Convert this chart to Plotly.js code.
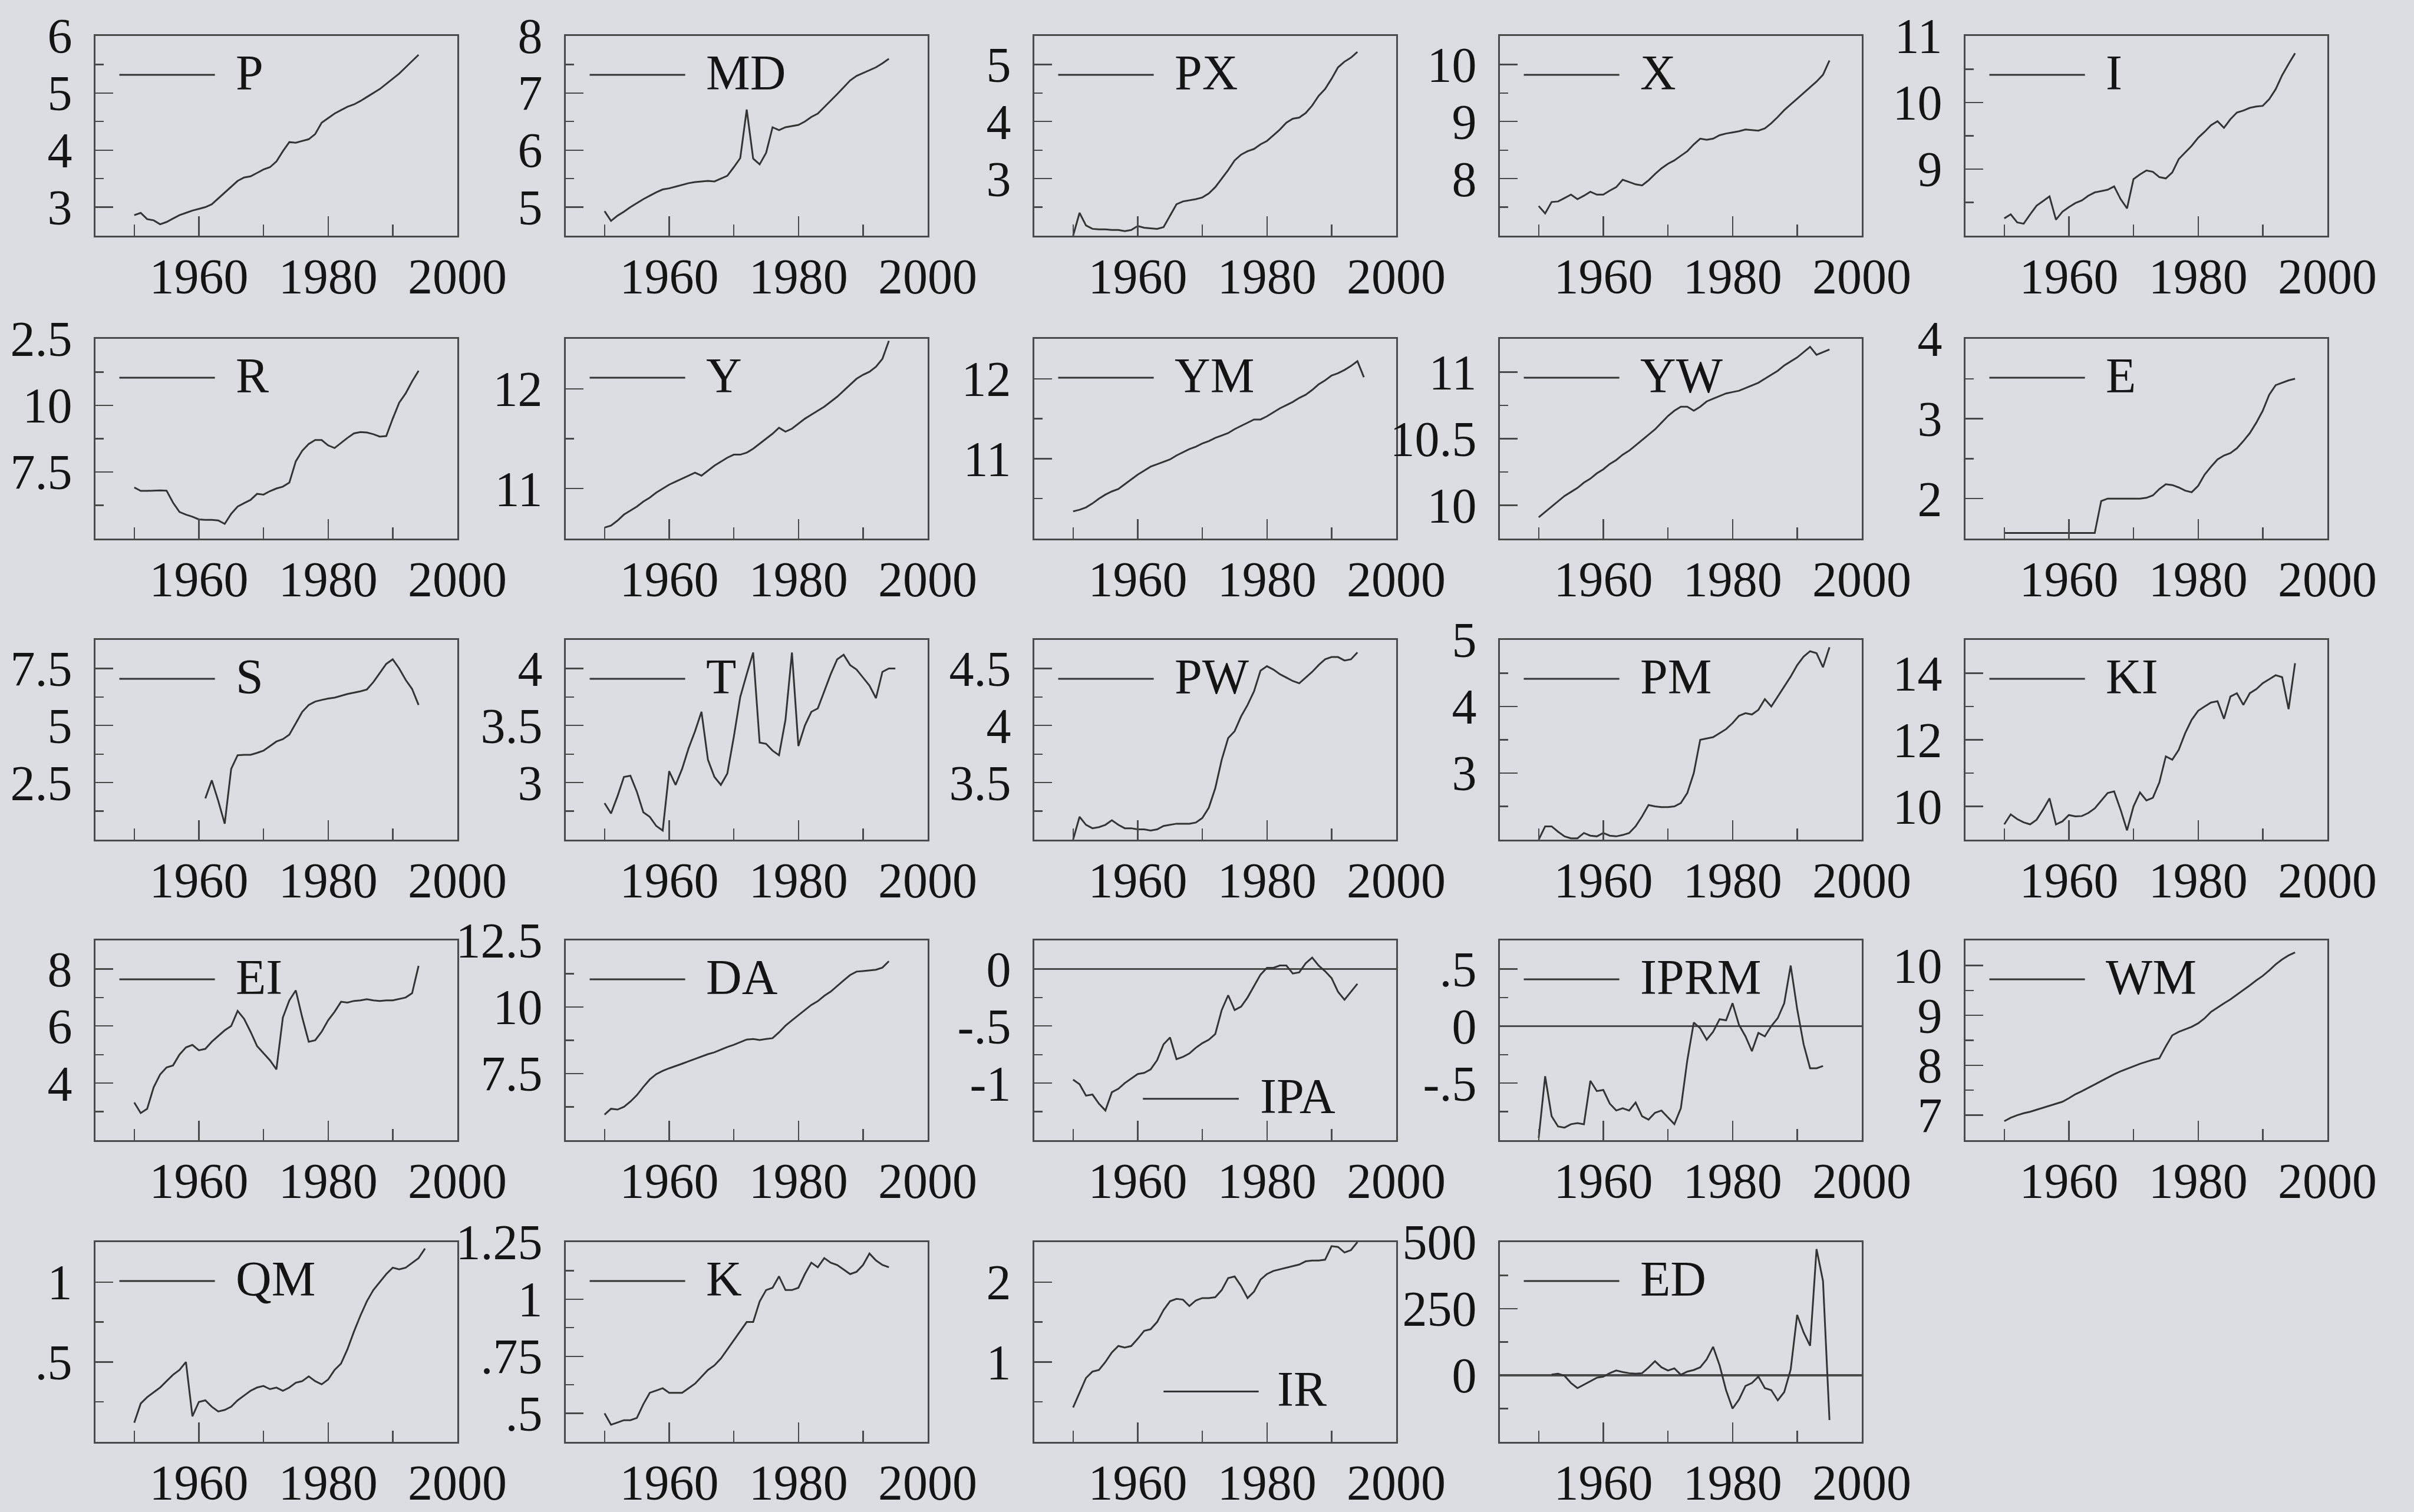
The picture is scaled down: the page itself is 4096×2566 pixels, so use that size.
<!DOCTYPE html>
<html><head><meta charset="utf-8">
<script src="https://cdn.plot.ly/plotly-3.0.1.min.js"></script>
<style>html,body{margin:0;padding:0;background:#dcdde3;} #chart{width:4096px;height:2566px;}</style>
</head><body><div id="chart"></div>
<script>
// ---------- data (annual) ----------
const years = [1950,1951,1952,1953,1954,1955,1956,1957,1958,1959,1960,1961,1962,1963,1964,1965,1966,1967,1968,1969,1970,1971,1972,1973,1974,1975,1976,1977,1978,1979,1980,1981,1982,1983,1984,1985,1986,1987,1988,1989,1990,1991,1992,1993,1994,1995];
const xTickLabels = ['1960','1980','2000'];
const xTickYears = [1960,1980,2000];
const xMinorYears = [1950,1970,1990];

const P   = [2.86,2.9,2.79,2.77,2.7,2.74,2.8,2.86,2.9,2.94,2.97,3.0,3.05,3.15,3.25,3.35,3.46,3.52,3.54,3.6,3.66,3.7,3.8,3.98,4.14,4.13,4.16,4.19,4.28,4.48,4.56,4.64,4.7,4.76,4.8,4.86,4.93,5.0,5.07,5.16,5.25,5.34,5.45,5.56,5.67];
const MD  = [4.93,4.76,4.85,4.92,5.0,5.07,5.14,5.2,5.26,5.31,5.33,5.36,5.39,5.42,5.44,5.45,5.46,5.45,5.5,5.55,5.7,5.86,6.71,5.85,5.75,5.95,6.4,6.35,6.4,6.42,6.44,6.5,6.58,6.64,6.75,6.86,6.98,7.1,7.22,7.3,7.35,7.4,7.45,7.52,7.6];
const PX  = [2.0,2.4,2.18,2.12,2.11,2.11,2.1,2.1,2.08,2.1,2.17,2.14,2.13,2.12,2.15,2.35,2.55,2.6,2.62,2.64,2.67,2.74,2.85,3.0,3.15,3.32,3.42,3.48,3.52,3.6,3.66,3.76,3.86,3.98,4.05,4.07,4.15,4.28,4.45,4.57,4.75,4.95,5.05,5.12,5.22];
const X   = [7.52,7.39,7.59,7.6,7.66,7.72,7.64,7.7,7.77,7.72,7.72,7.79,7.85,7.98,7.94,7.9,7.88,7.97,8.08,8.18,8.26,8.32,8.4,8.48,8.6,8.7,8.68,8.7,8.76,8.79,8.81,8.83,8.86,8.85,8.84,8.88,8.97,9.08,9.2,9.3,9.4,9.5,9.6,9.7,9.82,10.07];
const I   = [8.26,8.32,8.2,8.18,8.32,8.45,8.52,8.59,8.24,8.36,8.43,8.49,8.53,8.6,8.65,8.67,8.69,8.74,8.55,8.41,8.85,8.92,8.98,8.96,8.88,8.86,8.95,9.15,9.25,9.35,9.47,9.56,9.66,9.72,9.62,9.75,9.85,9.88,9.92,9.94,9.95,10.05,10.2,10.41,10.58,10.74];
const R   = [6.92,6.79,6.79,6.8,6.81,6.8,6.35,6.0,5.9,5.82,5.72,5.7,5.7,5.68,5.55,5.93,6.2,6.33,6.45,6.68,6.65,6.78,6.88,6.95,7.1,7.9,8.3,8.55,8.7,8.7,8.5,8.4,8.6,8.78,8.95,9.0,8.98,8.92,8.83,8.85,9.5,10.1,10.45,10.9,11.3];
const Y   = [10.61,10.63,10.68,10.74,10.78,10.82,10.87,10.91,10.96,11.0,11.04,11.07,11.1,11.13,11.16,11.13,11.18,11.23,11.27,11.31,11.34,11.34,11.36,11.4,11.45,11.5,11.55,11.61,11.57,11.6,11.65,11.7,11.74,11.78,11.82,11.87,11.92,11.98,12.04,12.1,12.14,12.17,12.22,12.3,12.48];
const YM  = [10.34,10.36,10.39,10.44,10.5,10.55,10.59,10.62,10.68,10.74,10.8,10.85,10.9,10.93,10.96,10.99,11.04,11.08,11.12,11.15,11.19,11.22,11.26,11.29,11.32,11.37,11.41,11.45,11.49,11.49,11.53,11.58,11.63,11.67,11.71,11.76,11.8,11.86,11.93,11.98,12.04,12.07,12.11,12.16,12.22,12.02];
const YW  = [9.91,9.95,9.99,10.03,10.07,10.1,10.13,10.17,10.2,10.24,10.27,10.31,10.34,10.38,10.41,10.45,10.49,10.53,10.57,10.62,10.67,10.71,10.74,10.74,10.71,10.74,10.78,10.8,10.82,10.84,10.85,10.86,10.88,10.9,10.92,10.95,10.98,11.01,11.05,11.08,11.11,11.15,11.19,11.13,11.15,11.17];
const E   = [1.57,1.57,1.57,1.57,1.57,1.57,1.57,1.57,1.57,1.57,1.57,1.57,1.57,1.57,1.57,1.97,2.0,2.0,2.0,2.0,2.0,2.0,2.01,2.04,2.12,2.18,2.17,2.14,2.1,2.08,2.16,2.3,2.4,2.49,2.54,2.57,2.63,2.72,2.82,2.95,3.1,3.3,3.42,3.45,3.48,3.5];
const S   = [null,null,null,null,null,null,null,null,null,null,null,1.81,2.6,1.7,0.7,3.1,3.7,3.72,3.72,3.8,3.9,4.1,4.3,4.4,4.6,5.1,5.6,5.9,6.05,6.12,6.18,6.22,6.3,6.38,6.44,6.5,6.58,6.9,7.3,7.7,7.9,7.5,7.0,6.6,5.9];
const T   = [2.82,2.73,2.88,3.05,3.06,2.92,2.74,2.7,2.62,2.58,3.1,2.98,3.12,3.3,3.45,3.62,3.2,3.05,2.98,3.08,3.4,3.75,3.95,4.14,3.35,3.34,3.28,3.24,3.55,4.14,3.32,3.5,3.62,3.65,3.8,3.95,4.08,4.12,4.03,3.99,3.92,3.85,3.74,3.97,4.0,4.0];
const PW  = [3.0,3.2,3.13,3.1,3.11,3.13,3.17,3.13,3.1,3.1,3.09,3.09,3.08,3.09,3.12,3.13,3.14,3.14,3.14,3.15,3.19,3.28,3.45,3.7,3.89,3.95,4.08,4.18,4.3,4.48,4.52,4.49,4.45,4.42,4.39,4.37,4.42,4.47,4.53,4.58,4.6,4.6,4.57,4.58,4.64];
const PM  = [2.0,2.2,2.2,2.12,2.05,2.02,2.02,2.1,2.06,2.05,2.1,2.06,2.05,2.07,2.1,2.2,2.35,2.52,2.5,2.49,2.49,2.5,2.55,2.7,3.0,3.5,3.52,3.54,3.6,3.66,3.75,3.86,3.9,3.88,3.95,4.11,4.0,4.15,4.3,4.45,4.62,4.75,4.83,4.8,4.59,4.89];
const KI  = [9.46,9.76,9.62,9.52,9.46,9.6,9.9,10.24,9.46,9.55,9.74,9.7,9.71,9.8,9.94,10.18,10.4,10.45,9.9,9.28,10.0,10.42,10.18,10.26,10.72,11.5,11.4,11.7,12.2,12.6,12.87,13.0,13.12,13.16,12.63,13.3,13.4,13.05,13.4,13.52,13.7,13.82,13.94,13.88,12.92,14.3];
const EI  = [3.32,2.95,3.1,3.85,4.3,4.55,4.62,5.0,5.25,5.34,5.15,5.2,5.45,5.65,5.85,6.0,6.53,6.25,5.8,5.3,5.05,4.8,4.48,6.3,6.9,7.25,6.3,5.45,5.5,5.8,6.2,6.5,6.85,6.82,6.88,6.9,6.94,6.9,6.88,6.9,6.9,6.95,7.0,7.15,8.11];
const DA  = [5.96,6.18,6.15,6.25,6.45,6.69,7.0,7.28,7.48,7.6,7.7,7.78,7.87,7.96,8.05,8.15,8.23,8.3,8.4,8.5,8.58,8.68,8.78,8.8,8.76,8.8,8.83,9.05,9.3,9.5,9.7,9.9,10.08,10.22,10.42,10.58,10.8,11.0,11.2,11.33,11.35,11.38,11.4,11.48,11.72];
const IPA = [-0.97,-1.01,-1.11,-1.1,-1.18,-1.24,-1.08,-1.05,-1.0,-0.96,-0.92,-0.91,-0.88,-0.8,-0.66,-0.6,-0.79,-0.77,-0.74,-0.69,-0.65,-0.62,-0.57,-0.36,-0.23,-0.36,-0.33,-0.25,-0.15,-0.05,0.01,0.01,0.03,0.03,-0.04,-0.03,0.05,0.1,0.03,-0.02,-0.08,-0.2,-0.27,-0.2,-0.13];
const IPRM= [-0.98,-0.44,-0.79,-0.88,-0.89,-0.86,-0.85,-0.86,-0.48,-0.57,-0.56,-0.68,-0.74,-0.72,-0.74,-0.67,-0.79,-0.82,-0.76,-0.74,-0.8,-0.86,-0.72,-0.3,0.03,-0.02,-0.12,-0.05,0.06,0.05,0.2,0.01,-0.09,-0.22,-0.06,-0.09,0.0,0.07,0.2,0.53,0.15,-0.16,-0.37,-0.37,-0.35];
const WM  = [6.88,6.95,7.0,7.04,7.07,7.11,7.15,7.19,7.23,7.27,7.34,7.42,7.48,7.55,7.62,7.69,7.75,7.82,7.88,7.93,7.98,8.03,8.07,8.11,8.14,8.38,8.6,8.67,8.72,8.77,8.84,8.94,9.07,9.16,9.24,9.32,9.41,9.5,9.6,9.7,9.79,9.9,10.02,10.12,10.2,10.26];
const QM  = [0.12,0.24,0.28,0.31,0.34,0.38,0.42,0.45,0.5,0.16,0.25,0.26,0.22,0.19,0.2,0.22,0.26,0.29,0.32,0.34,0.35,0.33,0.34,0.32,0.34,0.37,0.38,0.41,0.38,0.36,0.39,0.45,0.49,0.58,0.69,0.79,0.88,0.95,1.0,1.05,1.09,1.08,1.09,1.12,1.15,1.21];
const K   = [0.5,0.45,0.46,0.47,0.47,0.48,0.54,0.59,0.6,0.61,0.59,0.59,0.59,0.61,0.63,0.66,0.69,0.71,0.74,0.78,0.82,0.86,0.9,0.9,0.99,1.04,1.05,1.1,1.04,1.04,1.05,1.11,1.16,1.14,1.18,1.16,1.15,1.13,1.11,1.12,1.15,1.2,1.17,1.15,1.14];
const IR  = [0.43,0.62,0.8,0.88,0.9,1.0,1.12,1.2,1.18,1.2,1.29,1.39,1.41,1.5,1.65,1.76,1.79,1.78,1.7,1.77,1.8,1.8,1.81,1.9,2.05,2.07,1.95,1.8,1.88,2.03,2.1,2.14,2.16,2.18,2.2,2.22,2.26,2.27,2.27,2.28,2.45,2.44,2.37,2.4,2.5];
const ED  = [null,null,3,6,-2,-29,-48,-35,-22,-9,-5,8,18,12,8,6,8,29,53,30,18,26,2,14,20,30,60,107,37,-56,-125,-91,-40,-29,-5,-48,-56,-94,-63,22,227,161,111,474,354,-168];

// series names and y tick labels per panel
const names = ['P','MD','PX','X','I','R','Y','YM','YW','E','S','T','PW','PM','KI','EI','DA','IPA','IPRM','WM','QM','K','IR','ED'];
const series = [P,MD,PX,X,I,R,Y,YM,YW,E,S,T,PW,PM,KI,EI,DA,IPA,IPRM,WM,QM,K,IR,ED];
const yTickValues = [[3,4,5,6],[5,6,7,8],[3,4,5],[8,9,10],[9,10,11],[7.5,10,12.5],[11,12],[11,12],[10,10.5,11],[2,3,4],
  [2.5,5,7.5],[3,3.5,4],[3.5,4,4.5],[3,4,5],[10,12,14],[4,6,8],[7.5,10,12.5],[-1,-0.5,0],[-0.5,0,0.5],[7,8,9,10],
  [0.5,1],[0.5,0.75,1,1.25],[1,2],[0,250,500]];
const yTickLabels = [['3','4','5','6'],['5','6','7','8'],['3','4','5'],['8','9','10'],['9','10','11'],['7.5','10','2.5'],['11','12'],['11','12'],['10','10.5','11'],['2','3','4'],
  ['2.5','5','7.5'],['3','3.5','4'],['3.5','4','4.5'],['3','4','5'],['10','12','14'],['4','6','8'],['7.5','10','12.5'],['-1','-.5','0'],['-.5','0','.5'],['7','8','9','10'],
  ['.5','1'],['.5','.75','1','1.25'],['1','2'],['0','250','500']];

// ---------- axis settings ----------
const yRanges = [[2.5,6],[4.5,8],[2,5.5],[7,10.5],[8,11],[5,12.5],[10.5,12.5],[10,12.5],[9.75,11.25],[1.5,4],
  [0,8.75],[2.5,4.25],[3,4.75],[2,5],[9,15],[2,9],[5,12.5],[-1.5,0.25],[-1,0.75],[6.5,10.5],
  [0,1.25],[0.375,1.25],[0,2.5],[-250,500]];
const minorSteps = [0.5,0.5,0.5,0.5,0.5,1.25,0.5,0.5,0.25,0.5, 1.25,0.25,0.25,0.5,1,1,1.25,0.25,0.25,0.5, 0.25,0.125,0.5,125];
const withZero = ['IPA','IPRM','ED'];
const legendLow = {IPA:[0.30,0.565,0.207,0.62], IR:[0.357,0.62,0.252,0.668]};
const legendStd = [0.066,0.33,0.805,0.385];

const W = 4096, H = 2566;
const colLeft = [162, 960, 1755, 2545, 3335];
const rowTop = [61, 575, 1086, 1596, 2108];
const PW_ = 614, PH_ = 339;

const FONT = 'Liberation Serif, Times New Roman, serif';
const TXT = '#141414';
const AX = '#4a4a4a';
const LINE = '#333333';
const BG = '#dcdde3';

const data = [], shapes = [], annotations = [];
const layout = {
  width: W, height: H, margin: {l:0, r:0, t:0, b:0},
  paper_bgcolor: BG, plot_bgcolor: BG, showlegend: false,
  font: {family: FONT, size: 84, color: TXT}
};

names.forEach((nm, i) => {
  const k = i + 1;
  const sfx = k === 1 ? '' : String(k);
  const xr = 'x' + sfx, yr = 'y' + sfx;
  const col = i % 5, row = Math.floor(i / 5);
  const x0 = colLeft[col] / W, x1 = (colLeft[col] + PW_) / W;
  const y1 = 1 - rowTop[row] / H, y0 = 1 - (rowTop[row] + PH_) / H;
  const vals = series[i];
  data.push({
    type: 'scatter', mode: 'lines', x: years.slice(0, vals.length), y: vals,
    xaxis: xr, yaxis: yr, line: {color: LINE, width: 3}, connectgaps: false,
    hoverinfo: 'skip'
  });
  const rg = yRanges[i], st = minorSteps[i];
  const majors = yTickValues[i];
  const minors = [];
  for (let v = rg[0]; v <= rg[1] + 1e-9; v += st) {
    const r = Math.round(v * 1000) / 1000;
    if (!majors.some(m => Math.abs(m - r) < 1e-6)) minors.push(r);
  }
  layout['xaxis' + sfx] = {
    domain: [x0, x1], anchor: yr, range: [1944, 2000],
    tickmode: 'array', tickvals: xTickYears, ticktext: xTickLabels,
    ticks: 'inside', ticklen: 33, tickwidth: 2.4, tickcolor: AX,
    minor: {tickmode: 'array', tickvals: xMinorYears, ticks: 'inside', ticklen: 19, tickwidth: 2.4, tickcolor: AX, showgrid: false},
    showline: true, linecolor: AX, linewidth: 2.8, mirror: true,
    showgrid: false, zeroline: false, fixedrange: true,
    tickfont: {family: FONT, size: 84, color: TXT}, ticklabelstandoff: -6
  };
  layout['yaxis' + sfx] = {
    domain: [y0, y1], anchor: xr, range: rg,
    tickmode: 'array', tickvals: majors, ticktext: yTickLabels[i],
    ticks: 'inside', ticklen: 30, tickwidth: 2.4, tickcolor: AX,
    minor: {tickmode: 'array', tickvals: minors, ticks: 'inside', ticklen: 14, tickwidth: 2.4, tickcolor: AX, showgrid: false},
    showline: true, linecolor: AX, linewidth: 2.8, mirror: true,
    showgrid: false, fixedrange: true,
    zeroline: withZero.includes(nm), zerolinecolor: '#4a4a4a', zerolinewidth: 3.2,
    tickfont: {family: FONT, size: 84, color: TXT}, ticklabelstandoff: 20
  };
  const lg = legendLow[nm] || legendStd;
  shapes.push({type: 'line', xref: xr + ' domain', yref: yr + ' domain',
    x0: lg[0], x1: lg[1], y0: lg[2], y1: lg[2], line: {color: LINE, width: 3}});
  annotations.push({xref: xr + ' domain', yref: yr + ' domain', x: lg[3], y: lg[2] + 0.012,
    xanchor: 'left', yanchor: 'middle', text: nm, showarrow: false,
    font: {family: FONT, size: 84, color: TXT}});
});
layout.shapes = shapes;
layout.annotations = annotations;

Plotly.newPlot('chart', data, layout, {displayModeBar: false, staticPlot: true});
</script>
</body></html>
